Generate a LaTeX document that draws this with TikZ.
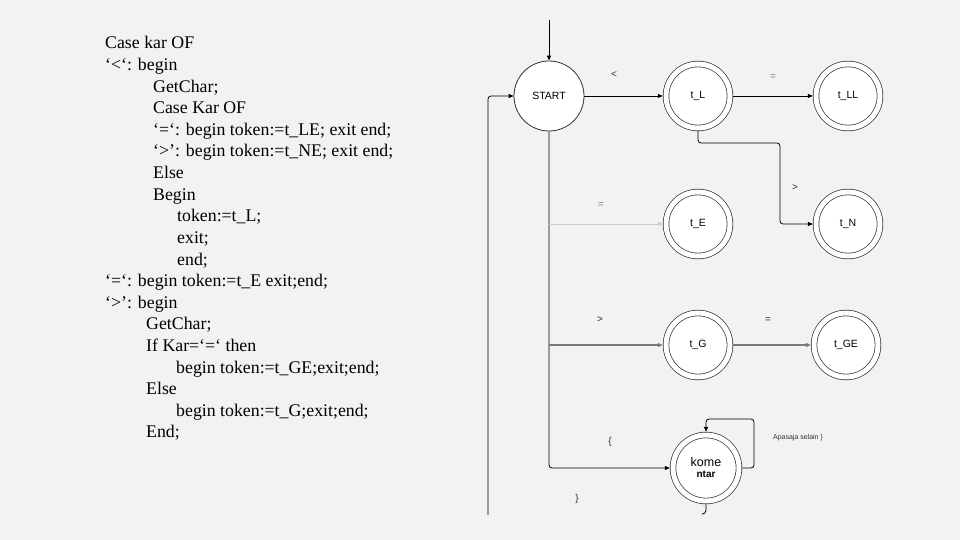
\documentclass[tikz,border=0pt]{standalone}
\usepackage{fontspec}
\setmainfont{Liberation Serif}
\newfontfamily\dsans{Liberation Sans}
\usetikzlibrary{arrows.meta}
\definecolor{bg}{HTML}{F2F2F2}
\definecolor{edge}{HTML}{303030}
\definecolor{gline}{HTML}{7A7A7A}
\definecolor{lline}{HTML}{CCCCCC}
\tikzset{
  code/.style={anchor=base west, inner sep=0pt, font=\fontsize{17.8}{21.6}\selectfont},
  startst/.style={circle, draw=edge, fill=white, line width=0.8pt, minimum size=70pt, inner sep=0pt,
    font=\dsans\fontsize{10.5}{12}\selectfont},
  accst/.style={circle, draw=edge, line width=0.7pt, fill=white, double=white, double distance=5pt,
    minimum size=64pt, inner sep=0pt, outer sep=3.2pt, font=\dsans\fontsize{10.5}{12}\selectfont},
  lab/.style={inner sep=0pt, font=\dsans\fontsize{10}{12}\selectfont, text=edge},
  conn/.style={draw=black, line width=0.8pt, -{Triangle[length=5pt,width=4pt]}, rounded corners=3pt},
  gconn/.style={conn, draw=gline, line width=1.2pt},
  lconn/.style={conn, draw=lline, line width=0.8pt},
}
\begin{document}
\begin{tikzpicture}[x=1pt,y=-1pt]
\fill[bg] (0,0) rectangle (960,540);
\useasboundingbox (0,0) rectangle (960,540);

% code text
\node[code] (c1)  at (105,49.0)  {Case kar OF};
\node[code] (c2)  at (105,70.6)  {‘<‘: begin};
\node[code] (c3)  at (153,92.2)  {GetChar;};
\node[code] (c4)  at (153,113.8) {Case Kar OF};
\node[code] (c5)  at (153,135.4) {‘=‘: begin token:=t\_LE; exit end;};
\node[code] (c6)  at (153,157.0) {‘>’: begin token:=t\_NE; exit end;};
\node[code] (c7)  at (153,178.6) {Else};
\node[code] (c8)  at (153,200.2) {Begin};
\node[code] (c9)  at (177,221.8) {token:=t\_L;};
\node[code] (c10) at (177,243.4) {exit;};
\node[code] (c11) at (177,265.0) {end;};
\node[code] (c12) at (105,286.6) {‘=‘: begin token:=t\_E exit;end;};
\node[code] (c13) at (105,308.2) {‘>’: begin};
\node[code] (c14) at (146,329.8) {GetChar;};
\node[code] (c15) at (146,351.4) {If Kar=‘=‘ then};
\node[code] (c16) at (176,373.0) {begin token:=t\_GE;exit;end;};
\node[code] (c17) at (146,394.6) {Else};
\node[code] (c18) at (176,416.2) {begin token:=t\_G;exit;end;};
\node[code] (c19) at (146,437.8) {End;};

% states
\node[startst] (S)   at (549,96)  {START};
\node[accst]   (tL)  at (698,96)  {t\_L};
\node[accst]   (tLL) at (848,96)  {t\_LL};
\node[accst]   (tE)  at (698,224) {t\_E};
\node[accst]   (tN)  at (848,224) {t\_N};
\node[accst]   (tG)  at (698,345) {t\_G};
\node[accst]   (tGE) at (846,345) {t\_GE};
\node[accst, minimum size=66pt, font=\dsans, align=center] (K) at (706,468)
  {\fontsize{12.5}{12}\selectfont kome\\[-1pt]\fontsize{10}{12}\selectfont\bfseries ntar};

% helper coordinates
\coordinate (top) at (549,20);
\coordinate (lb)  at (488,515);
\coordinate (jE)  at (549,224);
\coordinate (jG)  at (549,345);
\coordinate (bN)  at (780,143);
\coordinate (lp)  at (754,419);

% connectors
\draw[conn] (top) -- (S.north);
\draw[conn] (lb) |- (S.west);
\draw[conn] (S.south) |- (K.west);
\draw[conn] (S.east) -- (tL.west);
\draw[conn] (tL.east) -- (tLL.west);
\draw[conn] (tL.south) |- (bN) |- (tN.west);
\draw[lconn] (jE) -- (tE.west);
\draw[gconn] (jG) -- (tG.west);
\draw[gconn] (tG.east) -- (tGE.west);
\draw[conn] (K.east) -| (lp) -| (K.north);
\draw[draw=black, line width=0.8pt] (K.south) -- ++(0,6) to[out=-90,in=0] ++(-4,4);

% labels
\node[lab] (l1) at (614,75)  {<};
\node[lab, text=gline] (l2) at (773,77) {=};
\node[lab] (l3) at (795,188) {>};
\node[lab, text=gline] (l4) at (601,205) {=};
\node[lab] (l5) at (600,320) {>};
\node[lab] (l6) at (768,320) {=};
\node[lab] (l7) at (610,442) {\{};
\node[lab] (l8) at (577,499) {\}};
\node[lab, font=\dsans\fontsize{7}{8}\selectfont] (l9) at (798,438) {Apasaja selain \}};
\end{tikzpicture}
\end{document}
